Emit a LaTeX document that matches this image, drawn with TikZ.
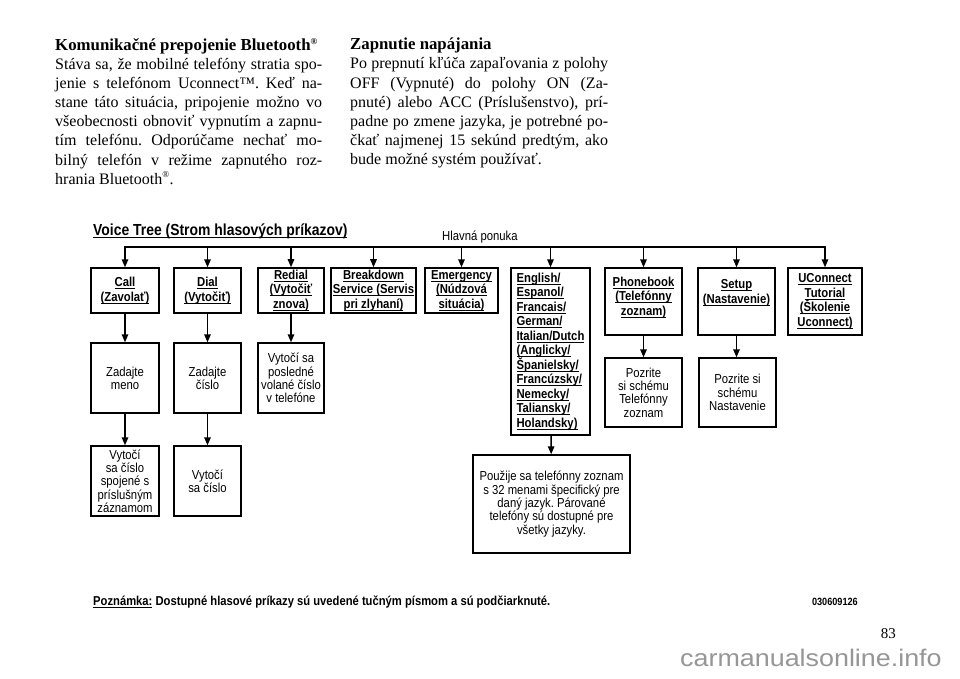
\documentclass[tikz,border=0pt]{standalone}
\usepackage{fontspec}
\setmainfont{Liberation Serif}
\newfontfamily\dfont[FakeStretch=0.87]{Liberation Sans}
\newfontfamily\wfont[FakeStretch=1.12]{Liberation Sans}
\usetikzlibrary{arrows.meta}
\definecolor{wmgray}{RGB}{150,150,150}
\newsavebox\ulbox
\newcommand\ulx[1]{\sbox\ulbox{#1}\rlap{\rule[-2.4pt]{\wd\ulbox}{0.9pt}}\usebox\ulbox}
\newcommand\jl[2]{\hbox to #1{#2}}
\frenchspacing
\begin{document}
\begin{tikzpicture}[x=1pt,y=-1pt,
  box/.style={draw, line width=1.4pt, inner sep=2pt, align=center,
    font=\dfont\fontsize{13}{13.3}\selectfont},
  cmd/.style={box, font=\dfont\bfseries\fontsize{13}{14.5}\selectfont},
  arr/.style={line width=1.4pt, line cap=rect, -{Triangle[length=8pt,width=6.5pt]}},
  bodytext/.style={anchor=north west, inner sep=0pt, align=left,
    font=\frenchspacing\fontsize{16}{19.1}\selectfont},
  ]
\useasboundingbox (0,0) rectangle (960,678);

% body text
\node[bodytext] (lefttxt) at (55,38) {%
{\fontsize{16.8}{19.1}\selectfont\textbf{Komunikačné prepojenie Bluetooth\textsuperscript{\small ®}}}\\
\jl{267pt}{Stáva sa, že mobilné telefóny stratia spo-}\\
\jl{267pt}{jenie s telefónom Uconnect™. Keď na-}\\
\jl{267pt}{stane táto situácia, pripojenie možno vo}\\
\jl{267pt}{všeobecnosti obnoviť vypnutím a zapnu-}\\
\jl{267pt}{tím telefónu. Odporúčame nechať mo-}\\
\jl{267pt}{bilný telefón v režime zapnutého roz-}\\
hrania Bluetooth\textsuperscript{\small ®}.};

\node[bodytext] (righttxt) at (350,38) {%
{\fontsize{16.8}{19.1}\selectfont\textbf{Zapnutie napájania}}\\
\jl{258pt}{Po prepnutí kľúča zapaľovania z polohy}\\
\jl{258pt}{OFF (Vypnuté) do polohy ON (Za-}\\
\jl{258pt}{pnuté) alebo ACC (Príslušenstvo), prí-}\\
\jl{258pt}{padne po zmene jazyka, je potrebné po-}\\
\jl{258pt}{čkať najmenej 15 sekúnd predtým, ako}\\
bude možné systém používať.};

% diagram headings
\node[anchor=base west, inner sep=0pt, font=\dfont\bfseries\fontsize{16}{16}\selectfont]
  (title) at (93,235) {\ulx{Voice Tree (Strom hlasových príkazov)}};
\node[anchor=base west, inner sep=0pt, font=\dfont\fontsize{13}{13}\selectfont]
  (hlavna) at (442,240) {Hlavná ponuka};

% top row
\node[cmd, minimum width=68pt, minimum height=45pt] (call) at (125,290.5)
  {\ulx{Call}\\\ulx{(Zavolať)}};
\node[cmd, minimum width=67pt, minimum height=45pt] (dial) at (207.5,290.5)
  {\ulx{Dial}\\\ulx{(Vytočiť)}};
\node[cmd, minimum width=66pt, minimum height=45pt] (redial) at (291,290.5)
  {\ulx{Redial}\\\ulx{(Vytočiť}\\\ulx{znova)}};
\node[cmd, minimum width=83pt, minimum height=45pt] (breakdown) at (373.5,290.5)
  {\ulx{Breakdown}\\\ulx{Service (Servis}\\\ulx{pri zlyhaní)}};
\node[cmd, minimum width=73pt, minimum height=45pt] (emergency) at (461.5,290.5)
  {\ulx{Emergency}\\\ulx{(Núdzová}\\\ulx{situácia)}};
\node[cmd, align=left, minimum width=79pt, minimum height=167pt] (english) at (550.5,351.5)
  {\ulx{English/}\\\ulx{Espanol/}\\\ulx{Francais/}\\\ulx{German/}\\\ulx{Italian/Dutch}\\
   \ulx{(Anglicky/}\\\ulx{Španielsky/}\\\ulx{Francúzsky/}\\\ulx{Nemecky/}\\\ulx{Taliansky/}\\\ulx{Holandsky)}};
\node[cmd, minimum width=77pt, minimum height=67pt] (phonebook) at (643.5,301.5)
  {\ulx{Phonebook}\\\ulx{(Telefónny}\\\ulx{zoznam)}\\[-4pt]\mbox{}};
\node[cmd, minimum width=77pt, minimum height=67pt] (setup) at (736.5,301.5)
  {\ulx{Setup}\\\ulx{(Nastavenie)}\\[6pt]\mbox{}};
\node[cmd, minimum width=74pt, minimum height=67pt] (uconnect) at (825,301.5)
  {\ulx{UConnect}\\\ulx{Tutorial}\\\ulx{(Školenie}\\\ulx{Uconnect)}};

% second row
\node[box, minimum width=68pt, minimum height=70pt] (meno) at (125,378)
  {Zadajte\\meno};
\node[box, minimum width=67pt, minimum height=70pt] (cislo) at (207.5,378)
  {Zadajte\\číslo};
\node[box, minimum width=66pt, minimum height=70pt] (posledne) at (291,378)
  {Vytočí sa\\posledné\\volané číslo\\v telefóne};
\node[box, minimum width=77pt, minimum height=69pt] (pozritetel) at (643.5,392.5)
  {Pozrite\\si schému\\Telefónny\\zoznam};
\node[box, minimum width=77pt, minimum height=69pt] (pozritenast) at (737.5,392.5)
  {Pozrite si\\schému\\Nastavenie};

% third row
\node[box, minimum width=68pt, minimum height=70pt] (spojene) at (125,481)
  {Vytočí\\sa číslo\\spojené s\\príslušným\\záznamom};
\node[box, minimum width=67pt, minimum height=70pt] (vytoci) at (207.5,481)
  {Vytočí\\sa číslo};
\node[box, minimum width=157pt, minimum height=98pt] (pouzije) at (551.5,504)
  {Použije sa telefónny zoznam\\s 32 menami špecifický pre\\daný jazyk. Párované\\telefóny sú dostupné pre\\všetky jazyky.};

% bus and arrows
\coordinate (bus) at (0,247);
\draw[line width=1.4pt] (call.north |- bus) -- (uconnect.north |- bus);
\foreach \n in {call,dial,redial,breakdown,emergency,english,phonebook,setup,uconnect}
  \draw[arr] (\n.north |- bus) -- (\n.north);
\draw[arr] (call) -- (meno);
\draw[arr] (dial) -- (cislo);
\draw[arr] (redial) -- (posledne);
\draw[arr] (meno) -- (spojene);
\draw[arr] (cislo) -- (vytoci);
\draw[arr] (phonebook) -- (pozritetel.north -| phonebook);
\draw[arr] (setup) -- (pozritenast.north -| setup);
\draw[arr] (english) -- (pouzije);

% footnote
\node[anchor=base west, inner sep=0pt, font=\dfont\bfseries\fontsize{12.9}{12.9}\selectfont]
  (note) at (93,605) {\ulx{Poznámka:} Dostupné hlasové príkazy sú uvedené tučným písmom a sú podčiarknuté.};
\node[anchor=base east, inner sep=0pt, font=\dfont\bfseries\fontsize{10.5}{10.5}\selectfont]
  (code) at (858,605) {030609126};
\node[anchor=base east, inner sep=0pt, font=\fontsize{15}{15}\selectfont]
  (pnum) at (896,638) {83};
\node[anchor=base west, inner sep=0pt, text=wmgray, font=\wfont\fontsize{24}{24}\selectfont]
  (wm) at (680,666) {carmanualsonline.info};
\end{tikzpicture}
\end{document}
